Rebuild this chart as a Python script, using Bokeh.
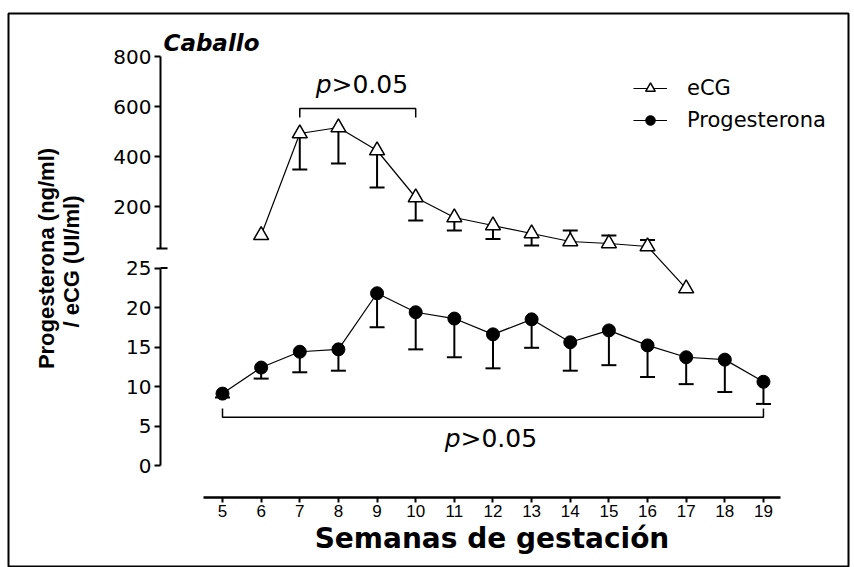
from bokeh.plotting import figure
from bokeh.models import (Range1d, LinearAxis, FixedTicker, Whisker, TeeHead, ColumnDataSource,
                          CustomJSTransform, Label, Legend, LegendItem)
from bokeh.transform import transform
from bokeh.embed import file_html
from bokeh.resources import INLINE

# ---------------- data ----------------
weeks = list(range(5, 20))
prog_mean = [9.1, 12.4, 14.4, 14.7, 21.8, 19.4, 18.6, 16.6, 18.5, 15.6, 17.1, 15.2, 13.7, 13.4, 10.6]
prog_err = [0.5, 1.4, 2.6, 2.7, 4.3, 4.7, 4.9, 4.3, 3.6, 3.6, 4.4, 4.0, 3.4, 4.1, 2.8]

ecg_weeks = list(range(6, 18))
ecg_mean = [85, 492, 516, 424, 236, 156, 124, 92, 60, 52, 40, 22.4]
ecg_err_down = [0, 144, 144, 148, 92, 52, 54, 48, 0, 0, 0, 0]
ecg_err_up = [0, 0, 0, 0, 0, 0, 0, 0, 44, 32, 26, 0]

lower_ticks = [0, 5, 10, 15, 20, 25]
upper_ticks = [200, 400, 600, 800]

# ---------------- geometry (pixel layout of the reference) ----------------
W, H = 854, 567
BL, BT, BR, BB = 8, 13, 6, 0
PX5, PXW = 222.0, 38.64          # pixel of week 5, pixels per week
PY0, PYU = 465.0, 7.9            # pixel of 0 on lower segment, pixels per unit
UP_D0 = (PY0 - 206.0) / PYU      # display position of 200 on the upper segment
UP_K = 0.25 / PYU                # display units per upper-axis unit
UP_LOW = 32                      # bottom of upper segment
SPLIT = 28

def wx(px):
    return 5 + (px - PX5) / PXW

def dy(py):
    return (PY0 - py) / PYU

def up_val(d):
    return 200 + (d - UP_D0) / UP_K

XL, XR = wx(BL), wx(W - BR)
YB, YT = dy(H - BB), dy(BT)

p = figure(width=W, height=H, x_range=Range1d(XL, XR), y_range=Range1d(YB, YT),
           output_backend="svg", toolbar_location=None,
           x_axis_location=None, y_axis_location=None,
           min_border_left=BL, min_border_top=BT, min_border_right=BR, min_border_bottom=BB)
p.grid.grid_line_color = None
p.outline_line_color = "black"
p.outline_line_width = 2
p.background_fill_color = "white"
p.extra_y_ranges = {"upper": Range1d(up_val(YB), up_val(YT))}

brk = CustomJSTransform(args=dict(D0=UP_D0, K=UP_K, T=SPLIT), v_func="""
const out = new Float64Array(xs.length);
for (let i = 0; i < xs.length; i++) {
  const v = xs[i];
  out[i] = v < T ? v : D0 + (v - 200) * K;
}
return out;
""")

FONT = "Liberation Sans"
WIDE = "DejaVu Sans"

# ---------------- axes ----------------
def style_axis(ax, font, size):
    ax.axis_line_width = 2
    ax.major_tick_line_width = 2
    ax.major_tick_out = 6
    ax.major_tick_in = 0
    ax.minor_tick_out = 0
    ax.minor_tick_in = 0
    ax.major_label_text_font = font
    ax.major_label_text_font_size = size
    ax.major_label_text_color = "black"
    ax.axis_label_text_color = "black"

ax_low = LinearAxis(bounds=(0, 25), ticker=FixedTicker(ticks=lower_ticks), fixed_location=wx(160))
style_axis(ax_low, WIDE, "20px")
ax_low.major_label_standoff = 3
p.add_layout(ax_low, "left")

ax_up = LinearAxis(y_range_name="upper", bounds=(UP_LOW, 800), ticker=FixedTicker(ticks=upper_ticks),
                   fixed_location=wx(160))
style_axis(ax_up, WIDE, "20px")
ax_up.major_label_standoff = 3
p.add_layout(ax_up, "left")

ax_x = LinearAxis(bounds=(4.5, 19.45), ticker=FixedTicker(ticks=weeks), fixed_location=dy(497),
                  axis_label="Semanas de gestación")
style_axis(ax_x, FONT, "17px")
ax_x.axis_line_width = 2.5
ax_x.major_tick_out = 5
ax_x.major_label_standoff = 2
ax_x.axis_label_text_font = WIDE
ax_x.axis_label_text_font_size = "28px"
ax_x.axis_label_text_font_style = "bold"
ax_x.axis_label_standoff = 2
p.add_layout(ax_x, "below")

# ---------------- sources ----------------
prog_src = ColumnDataSource(dict(x=weeks, y=prog_mean,
                                 lo=[m - e for m, e in zip(prog_mean, prog_err)]))
ecg_src = ColumnDataSource(dict(x=ecg_weeks, y=ecg_mean))

dn = [(w, m, e) for w, m, e in zip(ecg_weeks, ecg_mean, ecg_err_down) if e > 0]
up = [(w, m, e) for w, m, e in zip(ecg_weeks, ecg_mean, ecg_err_up) if e > 0]
ecg_dn_src = ColumnDataSource(dict(x=[a[0] for a in dn], hi=[a[1] for a in dn], lo=[a[1] - a[2] for a in dn]))
ecg_up_src = ColumnDataSource(dict(x=[a[0] for a in up], lo=[a[1] for a in up], hi=[a[1] + a[2] for a in up]))

# ---------------- error bars ----------------
CAP = 15
w1 = Whisker(base="x", lower="lo", upper="y", source=prog_src, dimension="height",
             line_width=2, line_color="black", upper_head=None,
             lower_head=TeeHead(size=CAP, line_width=2, line_color="black"), level="underlay")
w2 = Whisker(base="x", lower=transform("lo", brk), upper=transform("hi", brk), source=ecg_dn_src,
             dimension="height", line_width=2, line_color="black", upper_head=None,
             lower_head=TeeHead(size=CAP, line_width=2, line_color="black"), level="underlay")
w3 = Whisker(base="x", lower=transform("lo", brk), upper=transform("hi", brk), source=ecg_up_src,
             dimension="height", line_width=2, line_color="black", lower_head=None,
             upper_head=TeeHead(size=CAP, line_width=2, line_color="black"), level="underlay")
for w in (w1, w2, w3):
    p.add_layout(w)

# ---------------- series ----------------
r_pl = p.line("x", "y", source=prog_src, line_color="black", line_width=1.2)
r_pm = p.scatter("x", "y", source=prog_src, marker="circle", size=13,
                 fill_color="black", line_color="black")
r_el = p.line("x", transform("y", brk), source=ecg_src, line_color="black", line_width=1.2)
r_em = p.scatter("x", transform("y", brk), source=ecg_src, marker="triangle", size=15,
                 fill_color="white", line_color="black", line_width=1.5)

# ---------------- axis-break marks ----------------
p.segment(x0=[wx(156)], y0=[UP_LOW], x1=[wx(167)], y1=[UP_LOW],
          y_range_name="upper", line_color="black", line_width=2)
p.segment(x0=[wx(160)], y0=[25], x1=[wx(167)], y1=[25], line_color="black", line_width=2)

# ---------------- significance brackets ----------------
p.line([7, 7, 10, 10], [556, 592, 592, 556], y_range_name="upper", line_color="black", line_width=1.5)
p.line([5, 5, 19, 19], [7.2, 6.1, 6.1, 7.2], line_color="black", line_width=1.5)

def pval(split_px, py):
    a = Label(x=wx(split_px), y=dy(py), text="p", text_font=WIDE, text_font_style="italic",
              text_font_size="25px", text_align="right", text_baseline="middle", text_color="black")
    b = Label(x=wx(split_px), y=dy(py), text=">0.05", text_font=WIDE,
              text_font_size="25px", text_align="left", text_baseline="middle", text_color="black")
    p.add_layout(a)
    p.add_layout(b)

pval(331, 84)
pval(460, 438)

# ---------------- titles ----------------
p.add_layout(Label(x=wx(163), y=dy(42), text="Caballo", text_font=WIDE, text_font_style="bold italic",
                   text_font_size="23px", text_align="left", text_baseline="middle", text_color="black"))
YFONT = "'Liberation Sans Narrow', 'Liberation Sans', sans-serif"
p.add_layout(Label(x=wx(46), y=dy(258), text="Progesterona (ng/ml)", angle=90, angle_units="deg",
                   text_font=YFONT, text_font_style="bold", text_font_size="22px",
                   text_align="center", text_baseline="middle", text_color="black"))
p.add_layout(Label(x=wx(71), y=dy(261), text="/ eCG (UI/ml)", angle=90, angle_units="deg",
                   text_font=YFONT, text_font_style="bold", text_font_size="22px",
                   text_align="center", text_baseline="middle", text_color="black"))

# ---------------- legend ----------------
legend = Legend(items=[LegendItem(label="eCG", renderers=[r_el, r_em]),
                       LegendItem(label="Progesterona", renderers=[r_pl, r_pm])],
                location=(625, 435), padding=0, margin=0, spacing=8,
                glyph_width=34, glyph_height=24, label_standoff=20,
                label_text_font=WIDE, label_text_font_size="21px", label_text_color="black",
                border_line_color=None, background_fill_alpha=0)
p.add_layout(legend)

open("out.html", "w").write(file_html(p, INLINE))
